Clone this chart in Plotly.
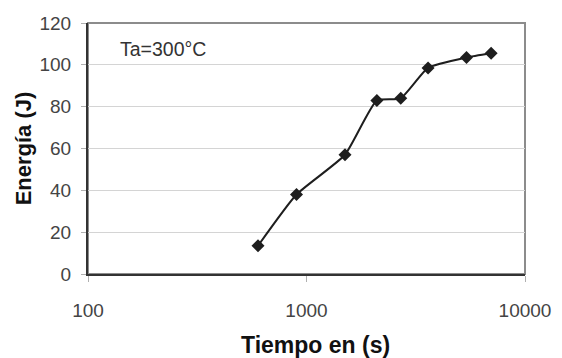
import plotly.graph_objects as go

# Energy absorbed vs. time, annealing at 300 °C
tiempo_s = [600, 900, 1500, 2100, 2700, 3600, 5400, 7000]
energia_j = [13.5, 38, 57, 83, 84, 98.5, 103.5, 105.5]

x_ticks = [100, 1000, 10000]
x_tick_labels = ["100", "1000", "10000"]
y_ticks = [0, 20, 40, 60, 80, 100, 120]

FONT = "Liberation Sans, Arial, sans-serif"

fig = go.Figure()
fig.add_trace(go.Scatter(
    x=tiempo_s,
    y=energia_j,
    mode="lines+markers",
    line=dict(color="#1e1e1e", width=2, shape="spline", smoothing=0.5),
    marker=dict(symbol="diamond", size=10, color="#1e1e1e"),
    showlegend=False,
))

# gray frame around the plot area (top and right edges)
fig.add_shape(
    type="rect", xref="paper", yref="paper", x0=0, x1=1, y0=0, y1=1,
    line=dict(color="#8c8c8c", width=2), layer="below",
)

fig.add_annotation(
    text="Ta=300°C", xref="paper", yref="paper", x=0.068, y=0.895,
    xanchor="left", yanchor="middle", showarrow=False,
    font=dict(family=FONT, size=19.5, color="#333333"),
)

# x-axis title, placed below the tick labels
fig.add_annotation(
    text="<b>Tiempo en (s)</b>", xref="paper", yref="paper", x=0.52, y=-0.283,
    xanchor="center", yanchor="middle", showarrow=False,
    font=dict(family=FONT, size=23, color="#111111"),
)

fig.update_xaxes(
    type="log",
    range=[2, 4],
    tickvals=x_ticks,
    ticktext=x_tick_labels,
    ticks="outside", ticklen=6, tickcolor="#b0b0b0", tickwidth=1,
    ticklabelstandoff=12,
    showgrid=False, zeroline=False,
    showline=True, linecolor="#333333", linewidth=2,
    tickfont=dict(family=FONT, size=19, color="#444444"),
)
fig.update_yaxes(
    range=[0, 120],
    tickvals=y_ticks,
    ticks="outside", ticklen=5, tickcolor="#b0b0b0", tickwidth=1,
    ticklabelstandoff=6,
    showgrid=True, gridcolor="#d4d4d4", gridwidth=1,
    zeroline=False,
    showline=True, linecolor="#333333", linewidth=2,
    tickfont=dict(family=FONT, size=19, color="#444444"),
    title=dict(text="<b>Energía (J)</b>", standoff=2,
               font=dict(family=FONT, size=22, color="#111111")),
)

fig.update_layout(
    width=562, height=358,
    margin=dict(l=88, r=37, t=23, b=84),
    paper_bgcolor="white", plot_bgcolor="white",
    font=dict(family=FONT),
)

fig.write_html("out.html")
